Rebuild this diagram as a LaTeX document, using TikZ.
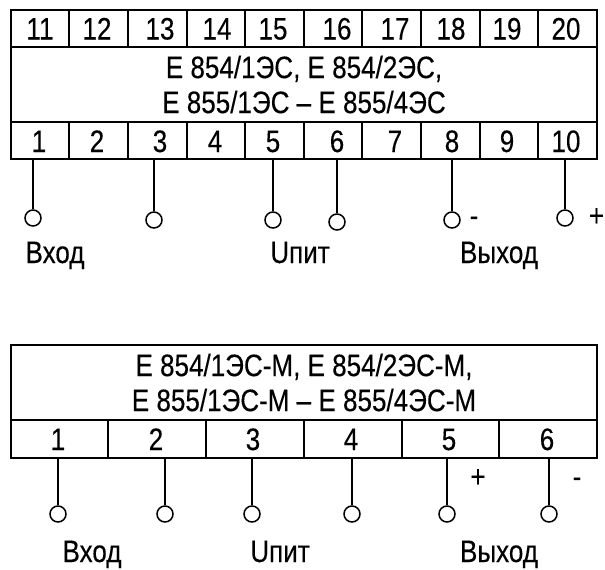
\documentclass[tikz,border=0pt]{standalone}
\usepackage{fontspec}
\setmainfont[FakeStretch=0.84,FakeBold=0.25]{Liberation Sans}
\begin{document}
\begin{tikzpicture}[x=1pt,y=-1pt,
    lbl/.style={anchor=base,inner sep=0pt,font=\fontsize{31}{35}\selectfont},
    frame/.style={draw,line width=2pt,inner sep=0pt,minimum width=586pt},
    wall/.style={line width=1.8pt},
    stem/.style={line width=1.6pt},
    pin/.style={draw,circle,line width=1.5pt,inner sep=0pt,minimum size=16pt}]
      \useasboundingbox (0,0) rectangle (605,570);
      \node[frame,minimum height=149.5pt] (boxA) at (304,84.25) {};
      \node[frame,minimum height=75pt,align=center,font=\fontsize{31}{35}\selectfont] (nameA) at (304,84.5)
        {Е 854/1ЭС, Е 854/2ЭС,\\Е 855/1ЭС – Е 855/4ЭС};
      \draw[wall] (69,9.5) -- (69,47);
      \draw[wall] (128,9.5) -- (128,47);
      \draw[wall] (187,9.5) -- (187,47);
      \draw[wall] (245,9.5) -- (245,47);
      \draw[wall] (304,9.5) -- (304,47);
      \draw[wall] (362,9.5) -- (362,47);
      \draw[wall] (421,9.5) -- (421,47);
      \draw[wall] (480,9.5) -- (480,47);
      \draw[wall] (538,9.5) -- (538,47);
      \draw[wall] (69,122) -- (69,159);
      \draw[wall] (128,122) -- (128,159);
      \draw[wall] (187,122) -- (187,159);
      \draw[wall] (245,122) -- (245,159);
      \draw[wall] (304,122) -- (304,159);
      \draw[wall] (362,122) -- (362,159);
      \draw[wall] (421,122) -- (421,159);
      \draw[wall] (480,122) -- (480,159);
      \draw[wall] (538,122) -- (538,159);
      \node[lbl] (t11) at (40,39.5) {11};
      \node[lbl] (t12) at (97,39.5) {12};
      \node[lbl] (t13) at (160,39.5) {13};
      \node[lbl] (t14) at (217,39.5) {14};
      \node[lbl] (t15) at (273,39.5) {15};
      \node[lbl] (t16) at (337,39.5) {16};
      \node[lbl] (t17) at (395,39.5) {17};
      \node[lbl] (t18) at (451,39.5) {18};
      \node[lbl] (t19) at (507,39.5) {19};
      \node[lbl] (t20) at (566,39.5) {20};
      \node[lbl] (t1) at (39,152) {1};
      \node[lbl] (t2) at (97,152) {2};
      \node[lbl] (t3) at (160,152) {3};
      \node[lbl] (t4) at (215,152) {4};
      \node[lbl] (t5) at (273,152) {5};
      \node[lbl] (t6) at (337,152) {6};
      \node[lbl] (t7) at (395,152) {7};
      \node[lbl] (t8) at (452,152) {8};
      \node[lbl] (t9) at (507,152) {9};
      \node[lbl] (t10) at (566,152) {10};
      \node[pin] (a1) at (33,218) {};
      \node[pin] (a3) at (154,220) {};
      \node[pin] (a5) at (273,220) {};
      \node[pin] (a6) at (337,222) {};
      \node[pin] (a8) at (452,220) {};
      \node[pin] (a10) at (565,218) {};
      \draw[stem] (a1) -- (a1 |- boxA.south);
      \draw[stem] (a3) -- (a3 |- boxA.south);
      \draw[stem] (a5) -- (a5 |- boxA.south);
      \draw[stem] (a6) -- (a6 |- boxA.south);
      \draw[stem] (a8) -- (a8 |- boxA.south);
      \draw[stem] (a10) -- (a10 |- boxA.south);
      \node[lbl] (inA) at (55,263) {Вход};
      \node[lbl] (supA) at (300,263) {Uпит};
      \node[lbl] (outA) at (499,263) {Выход};
      \node[lbl] (minusA) at (474,226) {-};
      \node[lbl] (plusA) at (596.5,226) {+};
      \node[frame,minimum height=113pt] (boxB) at (304,401.5) {};
      \node[frame,minimum height=75pt,align=center,font=\fontsize{31}{35}\selectfont] (nameB) at (304,382.5)
        {Е 854/1ЭС-М, Е 854/2ЭС-М,\\Е 855/1ЭС-М – Е 855/4ЭС-М};
      \draw[wall] (108,420) -- (108,458);
      \draw[wall] (206,420) -- (206,458);
      \draw[wall] (304,420) -- (304,458);
      \draw[wall] (402,420) -- (402,458);
      \draw[wall] (499,420) -- (499,458);
      \node[lbl] (s1) at (58,450) {1};
      \node[lbl] (s2) at (156,450) {2};
      \node[lbl] (s3) at (253,450) {3};
      \node[lbl] (s4) at (351,450) {4};
      \node[lbl] (s5) at (449,450) {5};
      \node[lbl] (s6) at (547,450) {6};
      \node[pin] (b1) at (58,514) {};
      \node[pin] (b2) at (165,514) {};
      \node[pin] (b3) at (252,514) {};
      \node[pin] (b4) at (352,514) {};
      \node[pin] (b5) at (447,514) {};
      \node[pin] (b6) at (549,514) {};
      \draw[stem] (b1) -- (b1 |- boxB.south);
      \draw[stem] (b2) -- (b2 |- boxB.south);
      \draw[stem] (b3) -- (b3 |- boxB.south);
      \draw[stem] (b4) -- (b4 |- boxB.south);
      \draw[stem] (b5) -- (b5 |- boxB.south);
      \draw[stem] (b6) -- (b6 |- boxB.south);
      \node[lbl] (inB) at (92,562) {Вход};
      \node[lbl] (supB) at (280,562) {Uпит};
      \node[lbl] (outB) at (499,562) {Выход};
      \node[lbl] (plusB) at (478,487) {+};
      \node[lbl] (minusB) at (577,487) {-};
    \end{tikzpicture}
\end{document}
